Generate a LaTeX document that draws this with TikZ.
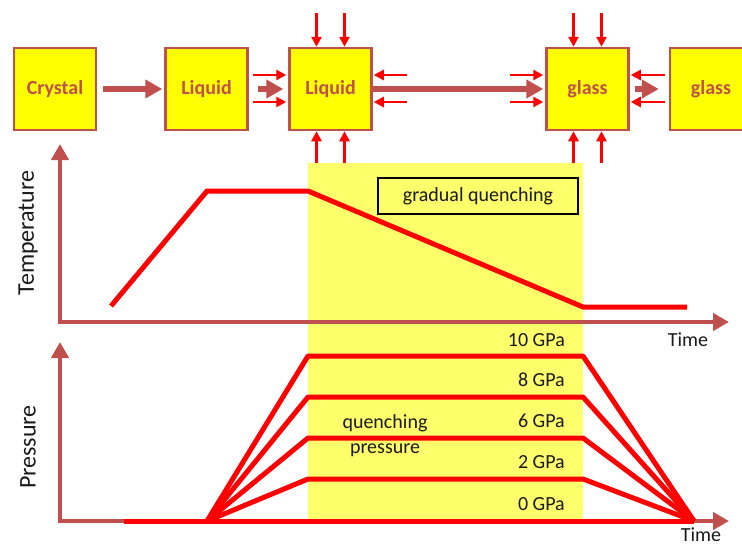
\documentclass[tikz,border=0pt]{standalone}
\usepackage{fontspec}
\setmainfont{Carlito}
\usetikzlibrary{arrows.meta,calc}
\definecolor{brn}{HTML}{C0504D}
\definecolor{ylw}{HTML}{FFFF00}
\definecolor{lylw}{HTML}{FFFF6B}
\definecolor{txt}{HTML}{1A1A1A}
\begin{document}
\begin{tikzpicture}[x=1pt,y=-1pt,
  box/.style={draw=brn,line width=2.5pt,fill=ylw,minimum width=82pt,minimum height=82pt,inner sep=0pt,text=brn,font=\fontsize{20}{24}\selectfont\bfseries},
  bigarrow/.style={draw=brn,line width=6pt,-{Triangle[length=17pt,width=18pt]}},
  parrow/.style={draw=red,line width=2.8pt,-{Triangle[length=10pt,width=10pt]}},
  axisline/.style={draw=brn,line width=4.5pt,-{Triangle[length=16pt,width=17pt]}},
  curve/.style={draw=red,line width=5pt},
  lbl/.style={font=\fontsize{20}{24}\selectfont,text=txt,inner sep=0pt},
  axlbl/.style={font=\fontsize{24}{28}\selectfont,text=txt,inner sep=0pt,rotate=90},
]
\clip (0,0) rectangle (742,546);
\fill[white] (0,0) rectangle (742,546);

% quenching region
\fill[lylw] (308,163) rectangle (583,521);

% boxes
\node[box] (crystal) at (55,89) {Crystal};
\node[box] (liq1) at (206.5,89) {Liquid};
\node[box] (liq2) at (330.5,89) {Liquid};
\node[box] (glass1) at (587.5,89) {glass};
\node[box] (glass2) at (711,89) {glass};

% transitions
\draw[bigarrow,shorten <=6pt,shorten >=2pt] (crystal) -- (liq1);
\draw[bigarrow,shorten <=9pt,shorten >=5pt] (liq1) -- (liq2);
\draw[bigarrow,shorten >=2pt] (liq2) -- (glass1);
\draw[bigarrow,shorten <=5pt,shorten >=10pt] (glass1) -- (glass2);

% pressure arrows on Liquid and glass
\foreach \dx in {-14,14}{
  \draw[parrow] ($(liq2.north)+(\dx,-34)$) -- ($(liq2.north)+(\dx,0)$);
  \draw[parrow] ($(liq2.south)+(\dx,32)$) -- ($(liq2.south)+(\dx,0)$);
  \draw[parrow] ($(glass1.north)+(\dx,-34)$) -- ($(glass1.north)+(\dx,0)$);
  \draw[parrow] ($(glass1.south)+(\dx,32)$) -- ($(glass1.south)+(\dx,0)$);
}
\foreach \dy in {-14,13}{
  \draw[parrow] ($(liq2.west)+(-35,\dy)$) -- ($(liq2.west)+(-2,\dy)$);
  \draw[parrow] ($(liq2.east)+(34,\dy)$) -- ($(liq2.east)+(1,\dy)$);
  \draw[parrow] ($(glass1.west)+(-35,\dy)$) -- ($(glass1.west)+(-2,\dy)$);
  \draw[parrow] ($(glass1.east)+(35,\dy)$) -- ($(glass1.east)+(1,\dy)$);
}

% temperature chart
\draw[axisline] (60,322) -- (60,144);
\draw[axisline] (58,322) -- (729,322);
\node[axlbl] (tlab) at (28,233) {Temperature};
\node[lbl,anchor=center] (time1) at (688,340) {Time};
\draw[curve] (111,306) -- (207,191) -- (308,191) -- (583,307) -- (687,307);
\node[draw=black,line width=2pt,fill=lylw,minimum width=200pt,minimum height=36pt,lbl] (gq) at (478,196) {gradual quenching};

% pressure chart
\draw[axisline] (60,521) -- (60,342);
\draw[axisline] (58,521) -- (729,521);
\node[axlbl] (plab) at (28,447) {Pressure};
\node[lbl,anchor=center] (time2) at (701,535) {Time};
\draw[curve] (124,521) -- (694,521);
\foreach \yy in {356,397,438,479}{
  \draw[curve,line join=round] (207,521) -- (308,\yy) -- (583,\yy) -- (694,521);
}
\node[lbl,anchor=east] (p10) at (565,340) {10 GPa};
\node[lbl,anchor=east] (p8) at (565,380) {8 GPa};
\node[lbl,anchor=east] (p6) at (565,421) {6 GPa};
\node[lbl,anchor=east] (p2) at (565,462) {2 GPa};
\node[lbl,anchor=east] (p0) at (565,504) {0 GPa};
\node[lbl,align=center,font=\fontsize{20}{25}\selectfont] (qp) at (385,436) {quenching\\pressure};
\end{tikzpicture}
\end{document}
